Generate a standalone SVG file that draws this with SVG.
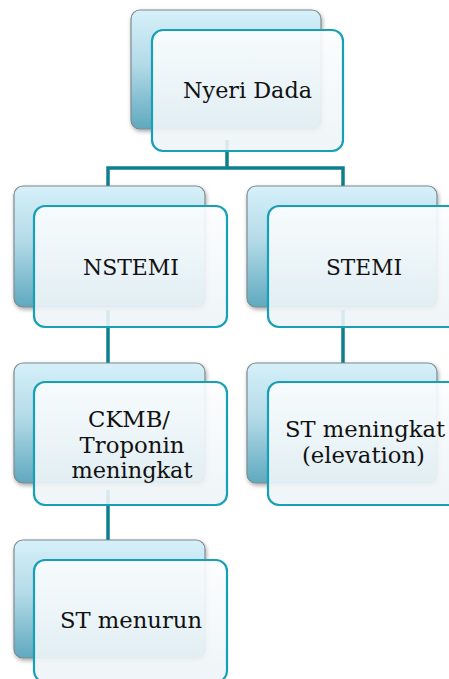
<svg xmlns="http://www.w3.org/2000/svg" width="449" height="679" viewBox="0 0 449 679">
  <defs>
    <linearGradient id="backFill" x1="0" y1="0" x2="0" y2="1">
      <stop offset="0" stop-color="#d6f0f9"/>
      <stop offset="0.45" stop-color="#b4dbe8"/>
      <stop offset="1" stop-color="#5fa9bf"/>
    </linearGradient>
    <linearGradient id="frontFill" x1="0" y1="0" x2="0" y2="1">
      <stop offset="0" stop-color="#fbfdfe"/>
      <stop offset="1" stop-color="#edf4f7"/>
    </linearGradient>
    <filter id="shadow" x="-10%" y="-10%" width="125%" height="125%">
      <feDropShadow dx="1" dy="2" stdDeviation="2" flood-color="#000" flood-opacity="0.35"/>
    </filter>
  </defs>
  <style>
    .back { fill: url(#backFill); stroke: #7f8a8e; stroke-width: 1.2; filter: url(#shadow); }
    .front { fill: url(#frontFill); fill-opacity: 0.9; stroke: #17a0b5; stroke-width: 2.2; }
    .link { fill: none; stroke: #0d7f8f; stroke-width: 3.5; }
    .label { font-family: "DejaVu Serif", "Liberation Serif", serif; font-size: 22.5px; fill: #111; text-anchor: middle; }
  </style>

  <rect width="449" height="679" fill="#ffffff"/>

  <!-- connectors (behind the boxes) -->
  <g id="connectors">
    <path class="link" d="M227 140 V168 M108 195 V168 H343 V195"/>
    <path class="link" d="M108 310 V372"/>
    <path class="link" d="M343 310 V372"/>
    <path class="link" d="M108 490 V548"/>
  </g>

  <g id="node-nyeri-dada">
    <rect class="back" x="131" y="10" width="190" height="119" rx="9"/>
    <rect class="front" x="152" y="30" width="191" height="121" rx="11"/>
    <text class="label" x="247.5" y="98" textLength="129" lengthAdjust="spacingAndGlyphs">Nyeri Dada</text>
  </g>

  <g id="node-nstemi">
    <rect class="back" x="14" y="186" width="191" height="121" rx="9"/>
    <rect class="front" x="34" y="206" width="193" height="121" rx="11"/>
    <text class="label" x="131" y="275" textLength="96" lengthAdjust="spacingAndGlyphs">NSTEMI</text>
  </g>

  <g id="node-stemi">
    <rect class="back" x="247" y="186" width="190" height="121" rx="9"/>
    <rect class="front" x="268" y="206" width="193" height="121" rx="11"/>
    <text class="label" x="364" y="275" textLength="76" lengthAdjust="spacingAndGlyphs">STEMI</text>
  </g>

  <g id="node-ckmb">
    <rect class="back" x="14" y="363" width="191" height="120" rx="9"/>
    <rect class="front" x="34" y="382" width="193" height="123" rx="11"/>
    <text class="label" x="129" y="427" textLength="82" lengthAdjust="spacingAndGlyphs">CKMB/</text>
    <text class="label" x="132" y="452.5" textLength="105" lengthAdjust="spacingAndGlyphs">Troponin</text>
    <text class="label" x="132" y="478" textLength="121" lengthAdjust="spacingAndGlyphs">meningkat</text>
  </g>

  <g id="node-st-meningkat">
    <rect class="back" x="247" y="363" width="190" height="120" rx="9"/>
    <rect class="front" x="268" y="382" width="193" height="123" rx="11"/>
    <text class="label" x="365" y="437" textLength="160" lengthAdjust="spacingAndGlyphs">ST meningkat</text>
    <text class="label" x="363.5" y="463" textLength="123" lengthAdjust="spacingAndGlyphs">(elevation)</text>
  </g>

  <g id="node-st-menurun">
    <rect class="back" x="14" y="540" width="191" height="118" rx="9"/>
    <rect class="front" x="34" y="560" width="193" height="122" rx="11"/>
    <text class="label" x="131" y="628" textLength="142" lengthAdjust="spacingAndGlyphs">ST menurun</text>
  </g>
</svg>
